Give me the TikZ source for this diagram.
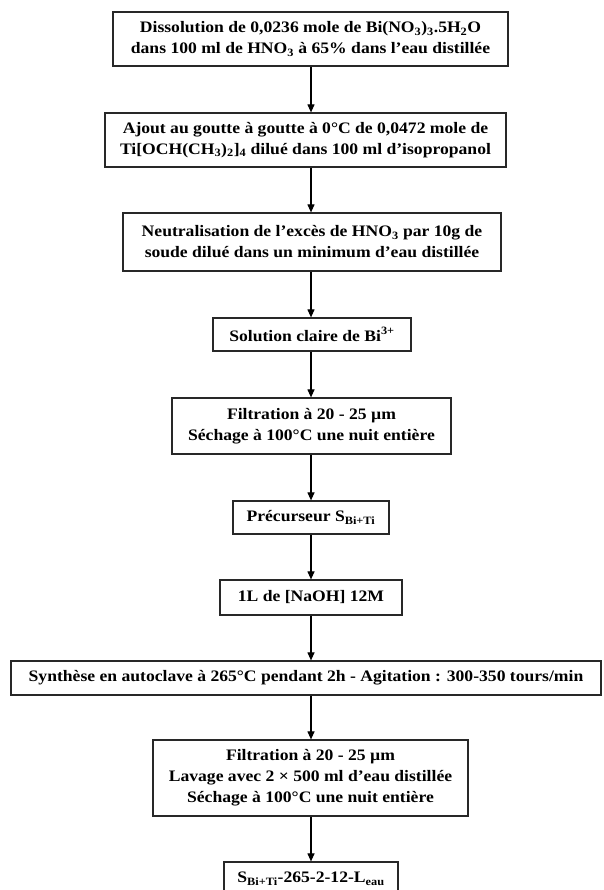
\documentclass[tikz,border=0pt]{standalone}
\usepackage{fontspec}
\setmainfont{Liberation Serif}[FakeStretch=1.1]
\usetikzlibrary{arrows.meta}
\definecolor{boxline}{RGB}{40,40,40}
\tikzset{
  stepbox/.style={draw=boxline, line width=1.2pt, inner sep=0pt, align=center,
    font=\bfseries\fontsize{16}{21}\selectfont, text=black},
  flow/.style={draw=black, line width=1.1pt, -{Triangle[length=8pt,width=7pt]}}
}
\begin{document}
\begin{tikzpicture}[x=1pt,y=-1pt]
\useasboundingbox (0,0) rectangle (603,890);
\clip (0,0) rectangle (603,890);
\fill[white] (0,0) rectangle (603,890);
\coordinate (ax) at (311,0);
\node[stepbox, minimum width=395pt, minimum height=54pt] (b1) at (310.5,39)
  {Dissolution de 0,0236 mole de Bi(NO\textsubscript{3})\textsubscript{3}.5H\textsubscript{2}O\\dans 100 ml de HNO\textsubscript{3} à 65\% dans l’eau distillée};
\node[stepbox, minimum width=401pt, minimum height=54pt] (b2) at (305.5,140)
  {Ajout au goutte à goutte à 0°C de 0,0472 mole de\\Ti[OCH(CH\textsubscript{3})\textsubscript{2}]\textsubscript{4} dilué dans 100 ml d’isopropanol};
\node[stepbox, minimum width=378pt, minimum height=58pt] (b3) at (312,242)
  {Neutralisation de l’excès de HNO\textsubscript{3} par 10g de\\soude dilué dans un minimum d’eau distillée};
\node[stepbox, minimum width=198pt, minimum height=33pt] (b4) at (312,334.5)
  {Solution claire de Bi\textsuperscript{3+}};
\node[stepbox, minimum width=279pt, minimum height=56pt] (b5) at (311.5,426)
  {Filtration à 20 - 25 µm\\Séchage à 100°C une nuit entière};
\node[stepbox, minimum width=156pt, minimum height=33pt] (b6) at (311,517.5)
  {Précurseur S\textsubscript{Bi+Ti}};
\node[stepbox, minimum width=182pt, minimum height=35pt] (b7) at (311,597.5)
  {1L de [NaOH] 12M};
\node[stepbox, minimum width=590pt, minimum height=34pt] (b8) at (306,678)
  {Synthèse en autoclave à 265°C pendant 2h - Agitation : 300-350 tours/min};
\node[stepbox, minimum width=315pt, minimum height=76pt] (b9) at (310.5,778)
  {Filtration à 20 - 25 µm\\Lavage avec 2 × 500 ml d’eau distillée\\Séchage à 100°C une nuit entière};
\node[stepbox, minimum width=174pt, minimum height=34pt] (b10) at (311,879)
  {S\textsubscript{Bi+Ti}-265-2-12-L\textsubscript{eau}};
\foreach \a/\b in {b1/b2,b2/b3,b3/b4,b4/b5,b5/b6,b6/b7,b7/b8,b8/b9,b9/b10}
  \draw[flow] (\a.south -| ax) -- (\b.north -| ax);
\end{tikzpicture}
\end{document}
